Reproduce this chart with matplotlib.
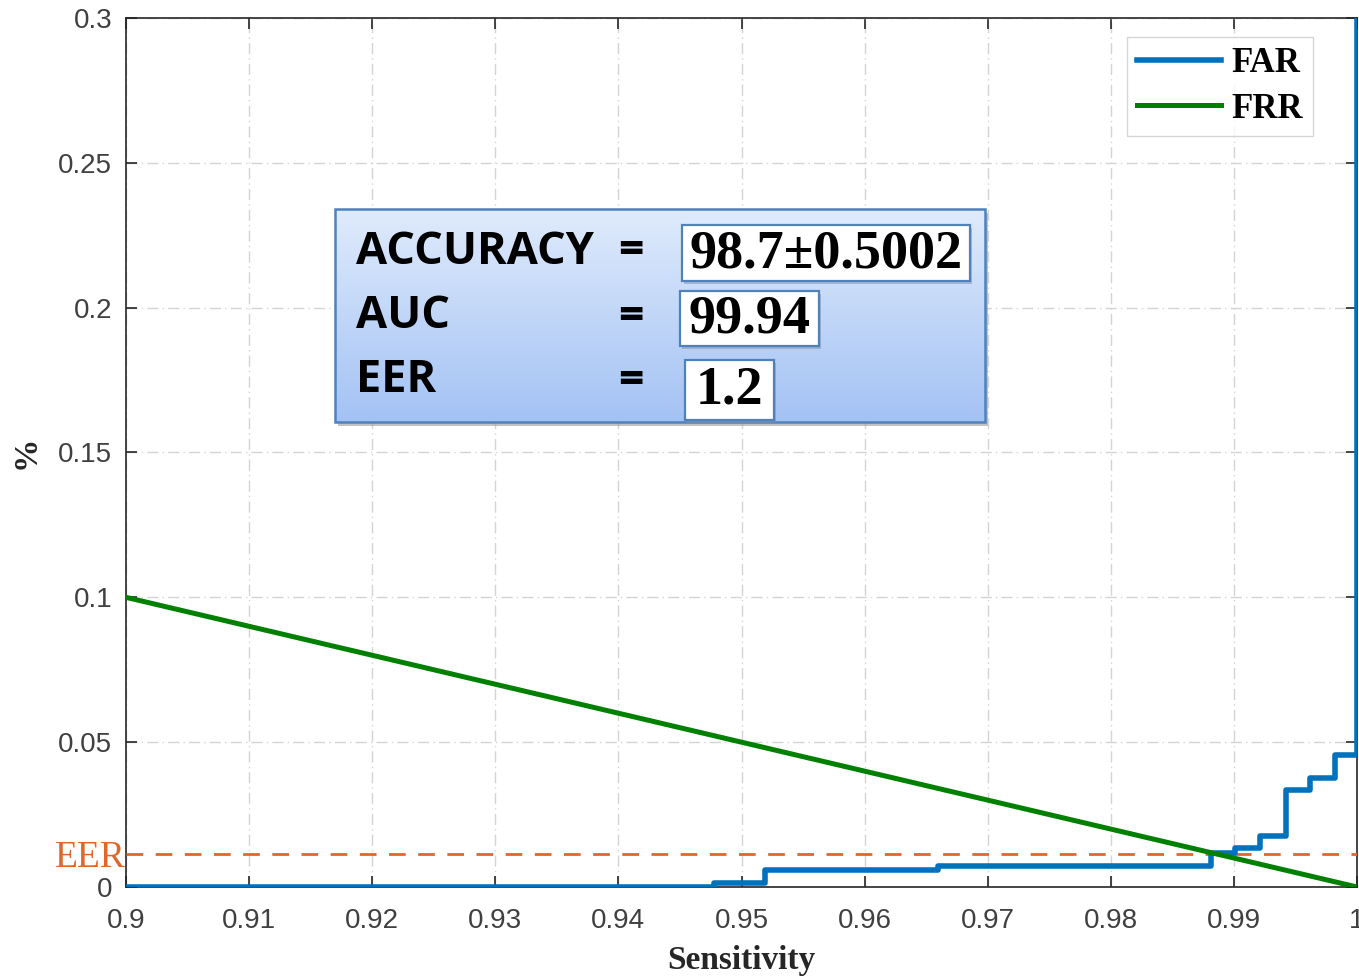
import numpy as np
import matplotlib
matplotlib.use("Agg")
import matplotlib.pyplot as plt
from matplotlib.patches import Rectangle

# ---- data ----
far_x = [0.9, 0.9478, 0.9519, 0.9660, 0.9881, 0.9901, 0.9921, 0.9942, 0.9962, 0.9982, 1.0]
far_y = [0.0, 0.0015, 0.0057, 0.0074, 0.0117, 0.0135, 0.0175, 0.0336, 0.0376, 0.0455, 1.0]
frr_x = [0.9, 1.0]
frr_y = [0.1, 0.0]
eer_level = 0.0115
xticks = [0.9, 0.91, 0.92, 0.93, 0.94, 0.95, 0.96, 0.97, 0.98, 0.99, 1.0]
xtick_labels = ["0.9", "0.91", "0.92", "0.93", "0.94", "0.95", "0.96", "0.97", "0.98", "0.99", "1"]
yticks = [0, 0.05, 0.1, 0.15, 0.2, 0.25, 0.3]
ytick_labels = ["0", "0.05", "0.1", "0.15", "0.2", "0.25", "0.3"]
stat_names = ["ACCURACY", "AUC", "EER"]
stat_values = ["98.7\u00b10.5002", "99.94", "1.2"]

W, H = 1359, 976
fig = plt.figure(figsize=(W / 100, H / 100), dpi=100)
ax = fig.add_axes([126 / W, 1 - 887 / H, (1357 - 126) / W, (887 - 18) / H])

far_c = "#0072bd"
frr_c = "#008000"
eer_c = "#e0662a"

ax.plot(far_x, far_y, drawstyle="steps-post", color=far_c, lw=4.0, label="FAR", zorder=4)
ax.plot(frr_x, frr_y, color=frr_c, lw=3.6, label="FRR", zorder=5)
ax.axhline(eer_level, color=eer_c, lw=2.0, dashes=(6, 4.5), zorder=3)

ax.set_xlim(0.9, 1.0)
ax.set_ylim(0, 0.3)
ax.set_xticks(xticks)
ax.set_xticklabels(xtick_labels)
ax.set_yticks(yticks)
ax.set_yticklabels(ytick_labels)
ax.tick_params(direction="in", length=8, width=1.2, top=True, right=True,
               labelsize=20, labelcolor="#404040", color="#262626", pad=10)
ax.tick_params(axis="x", pad=15)
for lab in ax.get_xticklabels() + ax.get_yticklabels():
    lab.set_fontfamily("Liberation Sans")
for s in ax.spines.values():
    s.set_color("#262626")
    s.set_linewidth(1.2)
ax.grid(True, color="#d4d4d4", lw=1.0, linestyle=(0, (8, 3, 1, 3)))
ax.set_axisbelow(True)

ax.set_xlabel("Sensitivity", family="Liberation Serif", fontweight="bold", fontsize=24, color="#262626", labelpad=8)
ax.set_ylabel("%", family="Liberation Serif", fontweight="bold", fontsize=24, color="#262626", labelpad=12)

ax.text(-0.0003, eer_level, "EER", transform=ax.get_yaxis_transform(), ha="right", va="center_baseline",
        family="Liberation Serif", fontsize=27, color=eer_c)

leg = ax.legend(loc="upper right", bbox_to_anchor=(1313 / W, 1 - 37 / H), bbox_transform=fig.transFigure,
                prop={"family": "Liberation Serif", "size": 25, "weight": "bold"}, handlelength=2.4, frameon=True,
                fancybox=False, edgecolor="#cccccc", borderpad=0.3, labelspacing=0.35, handletextpad=0.3,
                borderaxespad=0)
leg.get_frame().set_linewidth(1.0)

# ---- stats box (overlay in pixel coordinates) ----
bx0, by0, bx1, by1 = 335, 209, 985, 422
ov = fig.add_axes([0, 0, 1, 1], zorder=10)
ov.set_xlim(0, W)
ov.set_ylim(H, 0)
ov.axis("off")
# shadow
ov.add_patch(Rectangle((bx0 + 3, by0 + 4), bx1 - bx0, by1 - by0, facecolor="#9a9a9a", edgecolor="none", alpha=0.6, zorder=1))
grad = np.linspace(0, 1, 256).reshape(-1, 1)
top = np.array([0.878, 0.922, 0.988])
bot = np.array([0.639, 0.761, 0.957])
img = top[None, None, :] * (1 - grad[:, :, None]) + bot[None, None, :] * grad[:, :, None]
ov.imshow(img, extent=(bx0, bx1, by1, by0), aspect="auto", zorder=2, interpolation="bilinear")
ov.add_patch(Rectangle((bx0, by0), bx1 - bx0, by1 - by0, facecolor="none", edgecolor="#4f81bd", lw=1.8, zorder=3))

rows_y = [252, 317, 381]
val_boxes = [(682, 225, 970, 281), (680, 291, 819, 346), (685, 360, 774, 420)]
for name, val, yy, (vx0, vy0, vx1, vy1) in zip(stat_names, stat_values, rows_y, val_boxes):
    ov.text(356, yy, name, ha="left", va="center", family="Open Sans", fontweight="bold", fontsize=32.5, color="black", zorder=5)
    ov.text(631, yy, "=", ha="center", va="center", family="Open Sans", fontweight="bold", fontsize=32, color="black", zorder=5)
    ov.add_patch(Rectangle((vx0 + 2, vy0 + 3), vx1 - vx0, vy1 - vy0, facecolor="#7f8fa8", edgecolor="none", alpha=0.5, zorder=4))
    ov.add_patch(Rectangle((vx0, vy0), vx1 - vx0, vy1 - vy0, facecolor="white", edgecolor="#4f81bd", lw=1.6, zorder=4.5))
    ov.text((vx0 + vx1) / 2, (vy0 + vy1) / 2 + 1, val, ha="center", va="center", family="Liberation Serif", fontweight="bold",
            fontsize=39, color="black", zorder=5)

fig.savefig("out.png", dpi=100)
